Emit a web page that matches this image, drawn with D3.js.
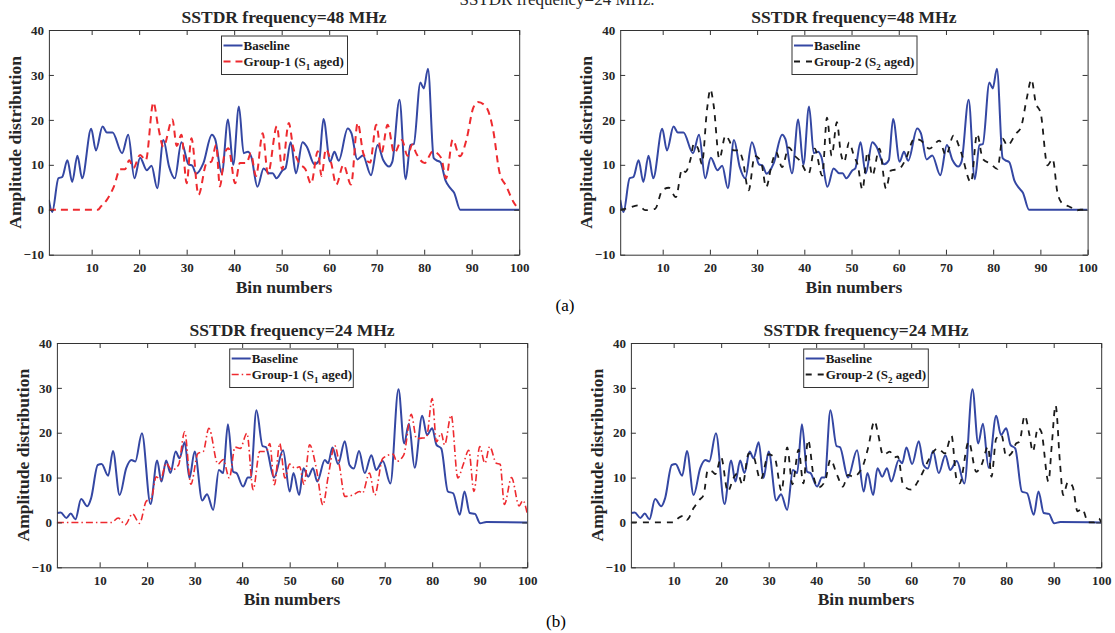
<!DOCTYPE html>
<html>
<head>
<meta charset="utf-8">
<script src="https://cdn.jsdelivr.net/npm/d3@7"></script>
<style>
body { margin: 0; background: #fff; }
svg { display: block; font-family: "Liberation Serif", "Times New Roman", serif; }
.tick text { font-family: "Liberation Serif", "Times New Roman", serif; font-size: 13px; font-weight: bold; fill: #262626; }
.domain, .tick line { stroke: #333; }
.title, .xlabel, .ylabel { font-weight: bold; font-size: 17.5px; fill: #262626; }
.legend-text { font-weight: bold; font-size: 13px; fill: #1a1a1a; }
</style>
</head>
<body>
<svg id="chart" width="1115" height="633"></svg>
<script>
// values as [bin, amplitude]

var baseline48 = [[1,2.2],[1.7,-0.5],[3,7],[3.8,7.3],[4.9,11],[5.9,6.2],[7,12],[8,7],[9.9,18],[10.9,13.2],
  [12.3,18.5],[13.2,17.2],[14.4,17.2],[16.4,12.6],[17.7,16.7],[19,7],[20.2,11.6],[21.6,8.8],[22.6,9.8],[23.8,4.8],
  [25.1,15.5],[26.3,9.6],[27.5,7],[28.9,15],[30.4,10.1],[31.2,9.8],[32,8],[33.5,10.3],[35.3,16.7],[36,15.7],
  [37.4,8.1],[38.7,20.1],[39.8,10],[41,23],[42,12.6],[42.9,12.9],[43.6,11.8],[44.9,5.1],[46.2,9.2],[47.4,8.1],
  [48.1,8.1],[48.9,7],[50.2,8.8],[50.8,9.2],[51.9,15],[53,8.1],[54.4,15],[55.3,14],[56.9,10.1],[57.9,11],
  [58.8,20.2],[60.2,10.7],[61.1,12.9],[62,10.9],[63.9,18.1],[64.7,17],[65.9,11.2],[67.1,12.1],[68.8,7.7],[70.2,14.4],
  [71.4,11],[72.6,9.6],[73.3,10.7],[74.8,24.5],[76.1,6.8],[77.1,14.4],[77.8,14.6],[79.2,28.3],[79.9,27],[80.8,31.4],
  [82,11.5],[82.6,11],[83.4,10.6],[84.5,6.5],[85.5,4.8],[86.3,3.8],[87.6,0],[90,0],[100,0]];

var group1_48 = [[1,0],[11.3,0],[12,0.8],[13.2,2.2],[14.7,5.2],[16,9],[17,9],[17.9,11],[18.8,9.3],[20.2,12.2],
  [21.4,11],[23,23.9],[24,18.5],[25.1,14],[27,20.1],[27.9,14.2],[28.9,16.7],[30,5.9],[31,15.9],[32.5,3.3],
  [34.2,10.4],[35.2,10.7],[36.2,14.4],[37,5.2],[38,12.6],[38.8,13.7],[40.2,5.9],[41.2,10.4],[42.6,10.4],[43.5,12.5],
  [44.6,7.5],[46,17],[47.1,8],[49,18.6],[50.1,9],[51.5,19.3],[52.4,14],[53.6,10.5],[55,9],[56.2,5.8],
  [57.6,13],[58.4,7.5],[59.3,13.5],[60.4,10.5],[61.5,5.6],[63,10],[64.6,5.6],[66,19.3],[67.2,12.5],[68.6,10.5],
  [69.9,18.9],[71,12.6],[72.3,18.9],[73.7,12.6],[75.3,15.5],[76.5,12],[77.5,14.5],[78.3,12.6],[80.1,10.4],[81.8,13],
  [83.6,11.5],[84.6,7],[86,15.6],[87.5,11.9],[88.9,15.6],[90.3,22.6],[91.3,24],[93.1,22.8],[94.5,17.8],[95.9,8.1],
  [97.3,5.2],[98.7,1.9],[100,0]];

var group2_48 = [[1,0],[2.5,0.3],[4.9,1],[6.3,-0.1],[8.4,0.2],[9.9,4.3],[11.3,4.9],[12.8,2.8],[14.1,9],[14.8,8.4],
  [15.9,11.3],[16.6,14.7],[17.5,13.6],[18.3,10.2],[19.4,22.4],[20.1,26.8],[20.8,23.2],[22,11.3],[23.3,16.5],[24.1,15.4],
  [25,13.2],[26.1,13.2],[26.9,11.3],[28.2,4.3],[29.5,12],[30.3,11.5],[31,10],[31.9,5],[33.2,10.6],[34,12.8],
  [35.3,9.5],[36.7,13.9],[38,12],[39,11],[40.9,8],[42.2,13.6],[43.8,7.6],[44.8,20.5],[45.8,12],[46.9,19.5],
  [47.7,12.8],[48.4,10.6],[49.5,15],[50.5,12],[51.3,10],[52.3,4.5],[53.4,12.8],[54.4,7.6],[55.9,13.6],[57.3,4.7],
  [58.3,8.7],[60.1,9.1],[61.5,11.3],[63.3,15.8],[64.7,15.4],[66.5,13.6],[68.6,15.4],[70,12.1],[71.6,16.5],[73.2,12.8],
  [75.3,6.1],[76.6,16.9],[77.8,11.3],[79.5,10.2],[80.9,9.1],[82,15.8],[83,14.3],[84.8,16.9],[85.9,18.4],[87.1,24.7],
  [88.1,29],[89,23.9],[90.1,21.3],[91.5,9.9],[92.6,11.3],[93.6,3.9],[94.4,1.7],[95.5,1],[96.5,0.5],[97.5,-0.2],
  [98.5,0],[100,0]];

var baseline24 = [[1,2.1],[1.8,2.2],[3,1],[3.9,2],[4.9,0.7],[6.1,5.2],[7.4,3.6],[8.2,5.4],[9.6,12.8],[10.4,13],
  [11.8,10.4],[12.8,15.9],[14.2,6.1],[15.6,12.1],[16.7,13.9],[17.5,13.6],[18.9,19.9],[20.7,4.1],[22.1,13.8],[23,9.1],
  [24,13.8],[24.9,11],[26,15.8],[26.8,14.3],[27.9,17.9],[28.9,9.9],[30,15.8],[31.6,4.9],[32.6,6.3],[33.9,2.8],
  [35.1,11.7],[36,11],[37,21.9],[38.1,11.3],[38.8,11],[40.2,8],[41.2,10],[41.8,10],[43,25],[44.3,17],
  [45,16.8],[46.7,10],[48.6,16.1],[50,6.9],[50.8,11],[52,6.1],[52.9,12.1],[53.9,10.2],[54.9,12.1],[55.8,9.1],
  [57.4,13.9],[58.1,13.2],[59,16.7],[60.2,13],[61.6,18.1],[62.6,12.8],[63.5,12],[64.6,15.9],[65.8,11],[67.2,15],
  [68.2,11.7],[69.6,13.7],[71.2,8.7],[72.9,29.7],[74.1,17.6],[75.1,22],[76.3,12.2],[77.9,23.8],[78.9,19.5],[80,21],
  [80.9,17.3],[81.9,16.5],[83.3,6.9],[84.4,6.5],[85.8,1.7],[86.8,6.9],[87.9,2.1],[89,1.9],[90.1,-0.2],[91.4,0.1],
  [100,0]];

var group1_24 = [[1,0],[12.5,0],[13.9,1],[15.4,-0.5],[16.9,1.9],[18.4,-0.2],[19.8,4.7],[20.9,5.4],[21.9,10.2],[22.8,9.5],
  [24,13.2],[25.2,11.7],[26.6,12.8],[27.9,20.2],[29.2,8.5],[30.7,15.4],[31.8,15.8],[33,21],[34.9,13],[36,14],
  [37.3,9.9],[38.5,16.8],[39.6,16.5],[41,19.9],[42.3,7.3],[43.7,15.8],[45.1,15.8],[45.8,17.6],[46.8,8.4],[47.9,17.6],
  [49,9.9],[50,13],[51.1,12.1],[52.1,12.4],[53,8.5],[54.2,17.3],[55.6,12.1],[57,3.9],[58.1,10.2],[59.5,17.1],
  [60.5,12.5],[61.6,5.8],[63.3,6.1],[64.7,6.9],[65.3,6.5],[66.8,11],[67.9,6.1],[69.6,14.3],[71.8,15.2],[72.5,13.6],
  [74,15],[75.6,24.1],[76.7,18.7],[77.8,18.8],[78.8,19],[80,27.6],[80.9,18],[81.9,19.9],[82.6,17.3],[84,23.9],
  [85.4,9.9],[86.5,12.8],[87.7,16.1],[88.8,6.9],[90,16.9],[91.1,13.2],[92.1,16.9],[93.5,13.2],[94.3,13],[95.2,4],
  [96.7,10],[98.3,3.7],[99.1,4.9],[100,2]];

var group2_24 = [[1,0],[10,0],[11,1],[12.1,1.5],[12.8,0.6],[14.2,3.2],[15.4,5],[16.3,6.1],[17.2,11.7],[18.2,11.3],
  [18.8,10.8],[20,14.5],[21.4,6.9],[22.6,9.9],[23.5,11],[24.5,8.4],[25.8,15.4],[26.8,14.7],[28.3,9.5],[30,15.2],
  [31.3,14.3],[32.7,7],[33.9,16.7],[35,8.5],[36.3,16.2],[37.3,8.7],[38.3,18.4],[39.5,10],[40.5,7.8],[41.9,9.3],
  [43,14],[44.4,10.6],[45.6,8],[46.7,10.6],[47.8,10.2],[49.9,12.8],[50.9,16.5],[52.3,22.6],[53,19.9],[54.1,15],
  [55.5,15.8],[56.5,14.5],[57.2,14.7],[58.3,8.4],[60,7.3],[61.4,9.1],[62.5,11.3],[63.5,13.6],[65.6,16.5],[67.1,15.4],
  [68.5,19.3],[69.5,9.9],[70.2,8.7],[72.1,18],[73.7,11.3],[74.8,12.8],[76.2,16.9],[76.9,10.2],[77.9,18.7],[79,19.5],
  [80,14.7],[81.1,15.4],[82.1,17.6],[82.8,18],[83.9,23.8],[84.9,19.5],[85.6,15.8],[86.7,21.1],[87.4,20.2],[88.9,9.1],
  [89.6,17.3],[90.4,26.1],[91.3,13.6],[92,6.1],[93,9],[94,8],[95,2.5],[96,3],[97.3,0],[98.5,0],
  [99.5,0.9],[100,0]];

var xTicks = [10, 20, 30, 40, 50, 60, 70, 80, 90, 100];
var yTicks = [-10, 0, 10, 20, 30, 40];

var blue = "#3447a3", red = "#ee2a2f", black = "#1a1a1a";

var styles = {
    red:     { color: red,   width: 2,   dash: "7,5" },
    black:   { color: black, width: 1.8, dash: "6,6" },
    redDot:  { color: red,   width: 1.6, dash: "7,3,1.5,3" }
};

var panels = [
    { left: 48.9, right: 519.2, top: 30, bottom: 254.7, title: "SSTDR frequency=48 MHz",
      base: baseline48, group: group1_48, style: "red", name: "1", legendX: 221.5, legendW: 126 },
    { left: 620.2, right: 1087.6, top: 30, bottom: 254.7, title: "SSTDR frequency=48 MHz",
      base: baseline48, group: group2_48, style: "black", name: "2", legendX: 792, legendW: 125 },
    { left: 56.9, right: 527.2, top: 343, bottom: 567.3, title: "SSTDR frequency=24 MHz",
      base: baseline24, group: group1_24, style: "redDot", name: "1", legendX: 229.7, legendW: 123.6 },
    { left: 630.9, right: 1101.2, top: 343, bottom: 567.3, title: "SSTDR frequency=24 MHz",
      base: baseline24, group: group2_24, style: "black", name: "2", legendX: 803.7, legendW: 124.6 }
];

var svg = d3.select("#chart");

// leftover title of the figure above, cut by the page edge as in the source
svg.append("text")
    .attr("x", 557).attr("y", 5)
    .attr("text-anchor", "middle")
    .style("font-size", "17px")
    .style("fill", "#262626")
    .text("SSTDR frequency=24 MHz.");

panels.forEach(drawPanel);

svg.append("text").attr("x", 565).attr("y", 311).attr("text-anchor", "middle")
    .style("font-size", "17px").text("(a)");
svg.append("text").attr("x", 556).attr("y", 627).attr("text-anchor", "middle")
    .style("font-size", "17px").text("(b)");

function drawPanel(p, i) {
    var x = d3.scaleLinear().domain([1, 100]).range([p.left, p.right]);
    var y = d3.scaleLinear().domain([-10, 40]).range([p.bottom, p.top]);
    var st = styles[p.style];
    var g = svg.append("g");

    svg.append("clipPath").attr("id", "clip" + i)
        .append("rect")
        .attr("x", p.left).attr("y", p.top)
        .attr("width", p.right - p.left).attr("height", p.bottom - p.top);

    var line = d3.line()
        .x(function(d) { return x(d[0]); })
        .y(function(d) { return y(d[1]); })
        .curve(d3.curveMonotoneX);

    var lines = g.append("g").attr("clip-path", "url(#clip" + i + ")");
    lines.append("path")
        .datum(p.base)
        .attr("d", line)
        .attr("fill", "none")
        .attr("stroke", blue)
        .attr("stroke-width", 2);
    lines.append("path")
        .datum(p.group)
        .attr("d", line)
        .attr("fill", "none")
        .attr("stroke", st.color)
        .attr("stroke-width", st.width)
        .attr("stroke-dasharray", st.dash);

    // box with inward ticks on all sides
    g.append("g").attr("transform", "translate(0," + p.bottom + ")")
        .call(d3.axisBottom(x).tickValues(xTicks).tickSizeInner(-5).tickSizeOuter(0).tickPadding(8));
    g.append("g").attr("transform", "translate(0," + p.top + ")")
        .call(d3.axisTop(x).tickValues(xTicks).tickSizeInner(-5).tickSizeOuter(0).tickFormat(""));
    g.append("g").attr("transform", "translate(" + p.left + ",0)")
        .call(d3.axisLeft(y).tickValues(yTicks).tickSizeInner(-5).tickSizeOuter(0).tickPadding(5));
    g.append("g").attr("transform", "translate(" + p.right + ",0)")
        .call(d3.axisRight(y).tickValues(yTicks).tickSizeInner(-5).tickSizeOuter(0).tickFormat(""));
    g.selectAll("g").attr("font-family", null).attr("font-size", null);
    g.selectAll(".domain, .tick line").attr("stroke", "#333");

    var cx = (p.left + p.right) / 2;
    g.append("text").attr("class", "title")
        .attr("x", cx).attr("y", p.top - 7)
        .attr("text-anchor", "middle")
        .text(p.title);
    g.append("text").attr("class", "xlabel")
        .attr("x", cx).attr("y", p.bottom + 38)
        .attr("text-anchor", "middle")
        .text("Bin numbers");
    g.append("text").attr("class", "ylabel")
        .attr("transform", "translate(" + (p.left - 28) + "," + ((p.top + p.bottom) / 2) + ") rotate(-90)")
        .attr("text-anchor", "middle")
        .text("Amplitude distribution");

    // legend
    var lx = p.legendX, ly = p.top + 6, lg = g.append("g");
    lg.append("rect")
        .attr("x", lx).attr("y", ly)
        .attr("width", p.legendW).attr("height", 38.5)
        .attr("fill", "#fff").attr("stroke", "#333").attr("stroke-width", 1);
    lg.append("line")
        .attr("x1", lx + 2).attr("x2", lx + 21)
        .attr("y1", ly + 9.5).attr("y2", ly + 9.5)
        .attr("stroke", blue).attr("stroke-width", 2);
    lg.append("line")
        .attr("x1", lx + 2).attr("x2", lx + 21)
        .attr("y1", ly + 25.5).attr("y2", ly + 25.5)
        .attr("stroke", st.color).attr("stroke-width", st.width)
        .attr("stroke-dasharray", st.dash);
    lg.append("text").attr("class", "legend-text")
        .attr("x", lx + 22).attr("y", ly + 14)
        .text("Baseline");
    var t = lg.append("text").attr("class", "legend-text")
        .attr("x", lx + 22).attr("y", ly + 30);
    t.append("tspan").text("Group-" + p.name + " (S");
    t.append("tspan").attr("dy", 4).style("font-size", "9px").text(p.name);
    t.append("tspan").attr("dy", -4).text(" aged)");
}
</script>
</body>
</html>
